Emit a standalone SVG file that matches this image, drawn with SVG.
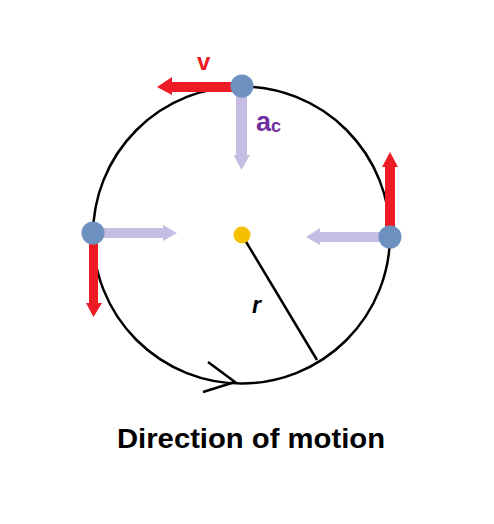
<svg xmlns="http://www.w3.org/2000/svg" width="494" height="524" viewBox="0 0 494 524">
<style>
.red{fill:#ED1C24}
.acc{fill:#C5BDE3}
.node{fill:#6E92BF}
.lbl{font-family:"Liberation Sans",Arial,sans-serif;font-weight:bold}
</style>
<rect width="494" height="524" fill="#fff"/>
<g id="connectors">
<circle id="path" cx="241.5" cy="235" r="148.5" fill="none" stroke="#000" stroke-width="2.5"/>
<line id="radius" x1="242" y1="235" x2="317" y2="360" stroke="#000" stroke-width="2.5"/>
<polyline id="direction" points="208,362 235,382 203,392" fill="none" stroke="#000" stroke-width="2.5"/>
</g>
<g id="center">
<circle cx="242" cy="235" r="8.5" fill="#F5C000"/>
</g>
<g id="top-vectors">
<polygon class="red" points="242,82 172,82 172,77 157,87 172,95 172,92 242,92"/>
<polygon class="acc" points="236,86 236,155 233.5,155 241.5,170 250,155 247,155 247,86"/>
</g>
<g id="left-vectors">
<polygon class="acc" points="93,228 163,228 163,225 177,233 163,241 163,238 93,238"/>
<polygon class="red" points="89,233 89,303 86,303 93.5,317 102,303 98,303 98,233"/>
</g>
<g id="right-vectors">
<polygon class="red" points="385,237 385,167 382,167 390,152 398,167 395,167 395,237"/>
<polygon class="acc" points="390,232 320,232 320,228 306,237 320,245 320,242 390,242"/>
</g>
<g id="node-top"><circle class="node" cx="242" cy="86" r="11.5"/></g>
<g id="node-left"><circle class="node" cx="93" cy="233" r="11.5"/></g>
<g id="node-right"><circle class="node" cx="390" cy="237" r="11.5"/></g>
<text class="lbl" x="197" y="70" font-size="24" fill="#ED1C24">v</text>
<text class="lbl" x="256" y="131" font-size="27" fill="#7030A0">a<tspan font-size="18" dy="1">c</tspan></text>
<text class="lbl" x="252" y="313" font-size="23" font-style="italic" fill="#000">r</text>
<text x="117" y="448" font-family="'Liberation Sans',Arial,sans-serif" font-weight="bold" font-size="27" textLength="268" lengthAdjust="spacingAndGlyphs" fill="#000">Direction of motion</text>
</svg>
